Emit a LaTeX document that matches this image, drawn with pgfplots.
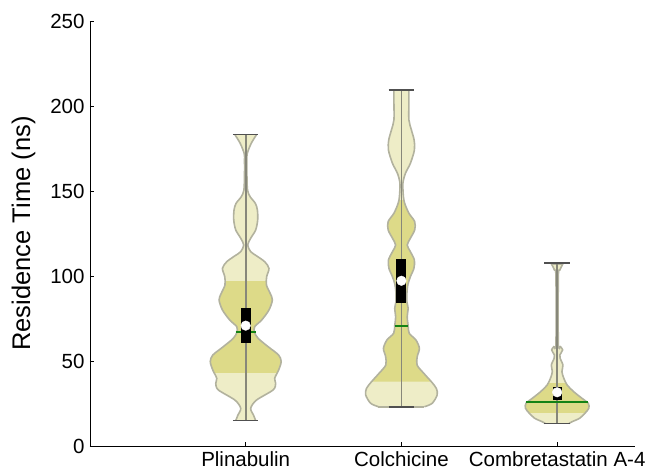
\documentclass[border=0pt]{standalone}
\usepackage{pgfplots}
\pgfplotsset{compat=1.18}
\usepackage{pgfplotstable}
\usepackage{fontspec}
\setmainfont{Liberation Sans}

\definecolor{vlight}{RGB}{238,237,199}
\definecolor{vdark}{RGB}{221,218,136}
\definecolor{voutline}{RGB}{178,178,158}
\definecolor{vcenter}{RGB}{135,135,122}
\definecolor{vcap}{RGB}{80,80,80}
\definecolor{vgreen}{RGB}{20,130,20}

% y = residence time (ns), w = half width of the violin (px, 156 px = 1 category)
\pgfplotstableread{
y w
14.9 10
18.2 7.8
22.2 5
27 10.8
33 27.5
36.9 30
39.8 29
44.7 33
49.6 35.5
53.5 33
58.4 22.5
63.3 12.5
66.9 8.8
70.2 9
74.1 16
80 23.3
85.9 26.7
89.8 24.5
94.7 20.8
99.6 21
104.5 23.3
108.4 19
111.8 11
114.3 5
118.2 2
122.2 5
127.1 10
133 12
138.8 11.7
142.7 9.7
146.6 4.5
150.6 1.8
160 1.2
168 1.2
172 1.5
178 5.5
183.3 11
}\plin

\pgfplotstableread{
y w
43 31.6
44.7 33
49.6 35.5
53.5 33
58.4 22.5
63.3 12.5
66.9 8.8
70.2 9
74.1 16
80 23.3
85.9 26.7
89.8 24.5
94.7 20.8
97 20.9
97 -20.9
94.7 -20.8
89.8 -24.5
85.9 -26.7
80 -23.3
74.1 -16
70.2 -9
66.9 -8.8
63.3 -12.5
58.4 -22.5
53.5 -33
49.6 -35.5
44.7 -33
43 -31.6
}\plindark

\pgfplotstableread{
y w
23.1 23
25.1 30.8
30 35.8
33.9 35
37.8 30
42.7 22.5
47.6 15.7
52.5 15.8
57.4 18
62.4 14.5
66.3 7.8
70.8 6.7
76.1 5.8
81 6.7
84.9 5.5
90 5.5
95 6.5
99.6 9
104.5 12.5
109.4 13
114.3 9
118.2 5.8
122.2 9
127.1 13.3
132 13.3
136.9 7.5
142.7 3.3
146.7 2
154.5 1.5
160.4 4
166.3 9
174.1 13
180 12.7
185.9 10
191.8 7.5
201.6 7.5
209 7.5
}\colc

\pgfplotstableread{
y w
37.8 30
42.7 22.5
47.6 15.7
52.5 15.8
57.4 18
62.4 14.5
66.3 7.8
70.8 6.7
76.1 5.8
81 6.7
84.9 5.5
90 5.5
95 6.5
99.6 9
104.5 12.5
109.4 13
114.3 9
118.2 5.8
122.2 9
127.1 13.3
132 13.3
136.9 7.5
142.7 3.3
144.7 2.6
144.7 -2.6
142.7 -3.3
136.9 -7.5
132 -13.3
127.1 -13.3
122.2 -9
118.2 -5.8
114.3 -9
109.4 -13
104.5 -12.5
99.6 -9
95 -6.5
90 -5.5
84.9 -5.5
81 -6.7
76.1 -5.8
70.8 -6.7
66.3 -7.8
62.4 -14.5
57.4 -18
52.5 -15.8
47.6 -15.7
42.7 -22.5
37.8 -30
}\colcdark

\pgfplotstableread{
y w
13.3 12
14.3 15
16.3 22.5
19.2 27.8
22.2 31.7
25.1 31.2
28 25
31.9 16.7
35.9 10
39.8 6.7
43.7 4.8
47.6 5.8
51.6 3
53.5 2.7
56.5 5.5
58.4 3.3
60.4 1.2
99.6 1.2
103.5 2.7
107.2 5.8
}\comb

\pgfplotstableread{
y w
19.5 28.2
22.2 31.7
25.1 31.2
28 25
31.9 16.7
35.9 10
37 9.1
37 -9.1
35.9 -10
31.9 -16.7
28 -25
25.1 -31.2
22.2 -31.7
19.5 -28.2
}\combdark

\begin{document}
\begin{tikzpicture}
\begin{axis}[
  scale only axis,
  width=545pt, height=425pt,
  xmin=0, xmax=3.5, ymin=0, ymax=250,
  axis x line=bottom, axis y line=left,
  axis line style={-, black, line width=0.8pt},
  tick align=inside,
  major tick length=4pt,
  tick style={black, line width=0.6pt},
  xtick={1,2,3},
  xticklabels={Plinabulin,Colchicine,Combretastatin A-4},
  ytick={0,50,100,150,200,250},
  /pgf/number format/assume math mode=true,
  tick label style={font=\fontsize{20.5}{24}\selectfont},
  yticklabel style={xshift=-2pt},
  xticklabel style={yshift=-2pt},
  ylabel={Residence Time (ns)},
  ylabel style={font=\fontsize{25.5}{30}\selectfont, at={(axis description cs:-0.0936,0.5)}, anchor=south},
]
% ---- light fills (smooth halves) ----
\addplot[fill=vlight, draw=none, smooth, tension=0.5] table[x expr=1+\thisrow{w}/156, y=y] {\plin} -- (axis cs:1,183.3) -- (axis cs:1,14.9) -- cycle;
\addplot[fill=vlight, draw=none, smooth, tension=0.5] table[x expr=1-\thisrow{w}/156, y=y] {\plin} -- (axis cs:1,183.3) -- (axis cs:1,14.9) -- cycle;
\addplot[fill=vlight, draw=none, smooth, tension=0.5] table[x expr=2+\thisrow{w}/156, y=y] {\colc} -- (axis cs:2,209) -- (axis cs:2,23.1) -- cycle;
\addplot[fill=vlight, draw=none, smooth, tension=0.5] table[x expr=2-\thisrow{w}/156, y=y] {\colc} -- (axis cs:2,209) -- (axis cs:2,23.1) -- cycle;
\addplot[fill=vlight, draw=none, smooth, tension=0.5] table[x expr=3+\thisrow{w}/156, y=y] {\comb} -- (axis cs:3,107.2) -- (axis cs:3,13.3) -- cycle;
\addplot[fill=vlight, draw=none, smooth, tension=0.5] table[x expr=3-\thisrow{w}/156, y=y] {\comb} -- (axis cs:3,107.2) -- (axis cs:3,13.3) -- cycle;
% ---- dark bands ----
\addplot[fill=vdark, draw=none] table[x expr=1+\thisrow{w}/156, y=y] {\plindark};
\addplot[fill=vdark, draw=none] table[x expr=2+\thisrow{w}/156, y=y] {\colcdark};
\addplot[fill=vdark, draw=none] table[x expr=3+\thisrow{w}/156, y=y] {\combdark};
% ---- outlines ----
\addplot[voutline, line width=1.6pt, smooth, tension=0.5] table[x expr=1+\thisrow{w}/156, y=y] {\plin};
\addplot[voutline, line width=1.6pt, smooth, tension=0.5] table[x expr=1-\thisrow{w}/156, y=y] {\plin};
\addplot[voutline, line width=1.6pt] coordinates {(0.936,14.9) (1.064,14.9)};
\addplot[voutline, line width=1.6pt] coordinates {(0.9295,183.3) (1.0705,183.3)};
\addplot[voutline, line width=1.6pt, smooth, tension=0.5] table[x expr=2+\thisrow{w}/156, y=y] {\colc};
\addplot[voutline, line width=1.6pt, smooth, tension=0.5] table[x expr=2-\thisrow{w}/156, y=y] {\colc};
\addplot[voutline, line width=1.6pt] coordinates {(1.8526,23.1) (2.1474,23.1)};
\addplot[voutline, line width=1.6pt] coordinates {(1.952,209) (2.048,209)};
\addplot[voutline, line width=1.6pt, smooth, tension=0.5] table[x expr=3+\thisrow{w}/156, y=y] {\comb};
\addplot[voutline, line width=1.6pt, smooth, tension=0.5] table[x expr=3-\thisrow{w}/156, y=y] {\comb};
\addplot[voutline, line width=1.6pt] coordinates {(2.923,13.3) (3.077,13.3)};
\addplot[voutline, line width=1.6pt] coordinates {(2.963,107.2) (3.037,107.2)};

% center lines
\addplot[vcenter, line width=1.8pt] coordinates {(1,14.9) (1,183.3)};
\addplot[vcenter, line width=1.8pt] coordinates {(2,23.1) (2,209.4)};
\addplot[vcenter, line width=1.8pt] coordinates {(3,13.3) (3,107.5)};
% caps
\addplot[vcap, line width=1.6pt] coordinates {(0.918,14.9) (1.082,14.9)};
\addplot[vcap, line width=1.6pt] coordinates {(0.918,183.3) (1.082,183.3)};
\addplot[vcap, line width=1.6pt] coordinates {(1.918,23.1) (2.082,23.1)};
\addplot[vcap, line width=1.6pt] coordinates {(1.918,209.4) (2.082,209.4)};
\addplot[vcap, line width=1.6pt] coordinates {(2.918,13.3) (3.082,13.3)};
\addplot[vcap, line width=1.6pt] coordinates {(2.918,107.5) (3.082,107.5)};
% mean lines (green)
\addplot[vgreen, line width=2pt] coordinates {(0.936,67) (1.064,67)};
\addplot[vgreen, line width=2pt] coordinates {(1.957,70.8) (2.043,70.8)};
\addplot[vgreen, line width=2pt] coordinates {(2.80,25.9) (3.20,25.9)};
% boxes
\addplot[black, line width=10pt, line cap=butt] coordinates {(1,60.6) (1,81.4)};
\addplot[black, line width=10pt, line cap=butt] coordinates {(2,84) (2,109.8)};
\addplot[black, line width=9pt, line cap=butt] coordinates {(3,27) (3,34.8)};
% medians (white circles)
\addplot[only marks, mark=*, mark size=4.8pt, mark options={fill=white, draw=white}] coordinates {(1,70.8) (2,97.2) (3,31.6)};
\end{axis}
\pgfresetboundingbox
\path[use as bounding box] (-90pt,-27pt) rectangle (561pt,446pt);
\end{tikzpicture}
\end{document}
